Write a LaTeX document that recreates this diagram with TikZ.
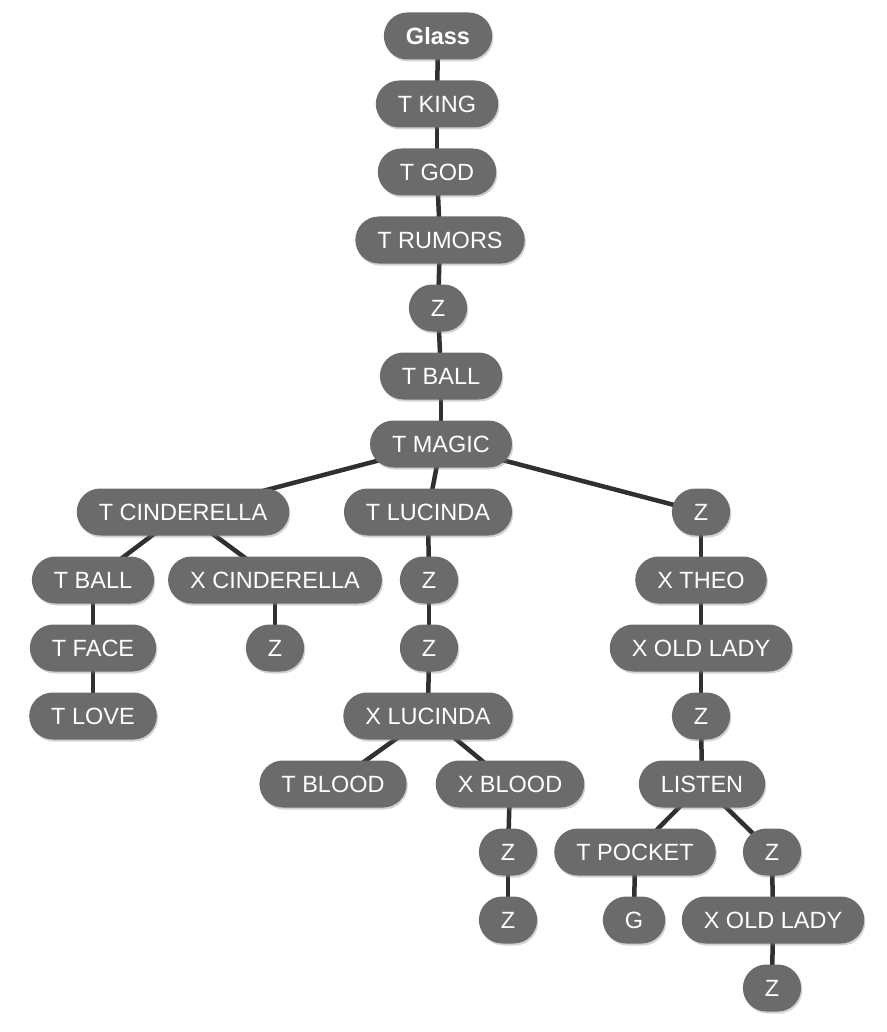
\documentclass[tikz,border=0pt]{standalone}
\usepackage{fontspec}
\setmainfont{Liberation Sans}
\usetikzlibrary{shapes.misc,shadows,backgrounds}
\definecolor{pillgray}{HTML}{6B6B6B}
\definecolor{linkgray}{HTML}{303030}

\begin{document}
\begin{tikzpicture}[x=1pt,y=-1pt,
    pill/.style={rounded rectangle,fill=pillgray,text=white,font=\fontsize{23.5}{26}\selectfont,
      minimum height=47pt,minimum width=55pt,inner xsep=20.5pt,inner ysep=0pt,
      drop shadow={shadow xshift=1.2pt,shadow yshift=-2pt,opacity=0.35}},
    link/.style={draw=linkgray,line width=4.5pt}]
\useasboundingbox (0,0) rectangle (886,1032);
\node[pill,font=\fontsize{23.5}{26}\selectfont\bfseries] (glass) at (438,36) {Glass};
\node[pill] (tking) at (437,104) {T KING};
\node[pill] (tgod) at (437,172) {T GOD};
\node[pill] (trumors) at (440,240) {T RUMORS};
\node[pill] (za) at (438,308) {Z};
\node[pill] (tball) at (441,376) {T BALL};
\node[pill] (tmagic) at (441,444) {T MAGIC};
\node[pill] (tcind) at (183,512) {T CINDERELLA};
\node[pill] (tluc) at (428,512) {T LUCINDA};
\node[pill] (zb) at (701,512) {Z};
\node[pill] (tballb) at (93,580) {T BALL};
\node[pill] (xcind) at (275,580) {X CINDERELLA};
\node[pill] (zc) at (429,580) {Z};
\node[pill] (xtheo) at (701,580) {X THEO};
\node[pill] (tface) at (93,648) {T FACE};
\node[pill] (zd) at (275,648) {Z};
\node[pill] (ze) at (429,648) {Z};
\node[pill] (xlady) at (701,648) {X OLD LADY};
\node[pill] (tlove) at (93,716) {T LOVE};
\node[pill] (xluc) at (428,716) {X LUCINDA};
\node[pill] (zf) at (701,716) {Z};
\node[pill] (tblood) at (333,784) {T BLOOD};
\node[pill] (xblood) at (510,784) {X BLOOD};
\node[pill] (listen) at (702,784) {LISTEN};
\node[pill] (zg) at (508,852) {Z};
\node[pill] (tpocket) at (635,852) {T POCKET};
\node[pill] (zh) at (772,852) {Z};
\node[pill] (zi) at (508,920) {Z};
\node[pill] (g) at (634,920) {G};
\node[pill] (xladyb) at (773,920) {X OLD LADY};
\node[pill] (zj) at (772,988) {Z};
\begin{scope}[on background layer]
\foreach \a/\b in {glass/tking,tking/tgod,tgod/trumors,trumors/za,za/tball,tball/tmagic,
    tmagic/tcind,tmagic/tluc,tmagic/zb,tcind/tballb,tcind/xcind,tballb/tface,tface/tlove,
    xcind/zd,tluc/zc,zc/ze,ze/xluc,xluc/tblood,xluc/xblood,xblood/zg,zg/zi,
    zb/xtheo,xtheo/xlady,xlady/zf,zf/listen,listen/tpocket,listen/zh,tpocket/g,zh/xladyb,xladyb/zj}
  \draw[link] (\a.center) -- (\b.center);
\end{scope}
\end{tikzpicture}
\end{document}
